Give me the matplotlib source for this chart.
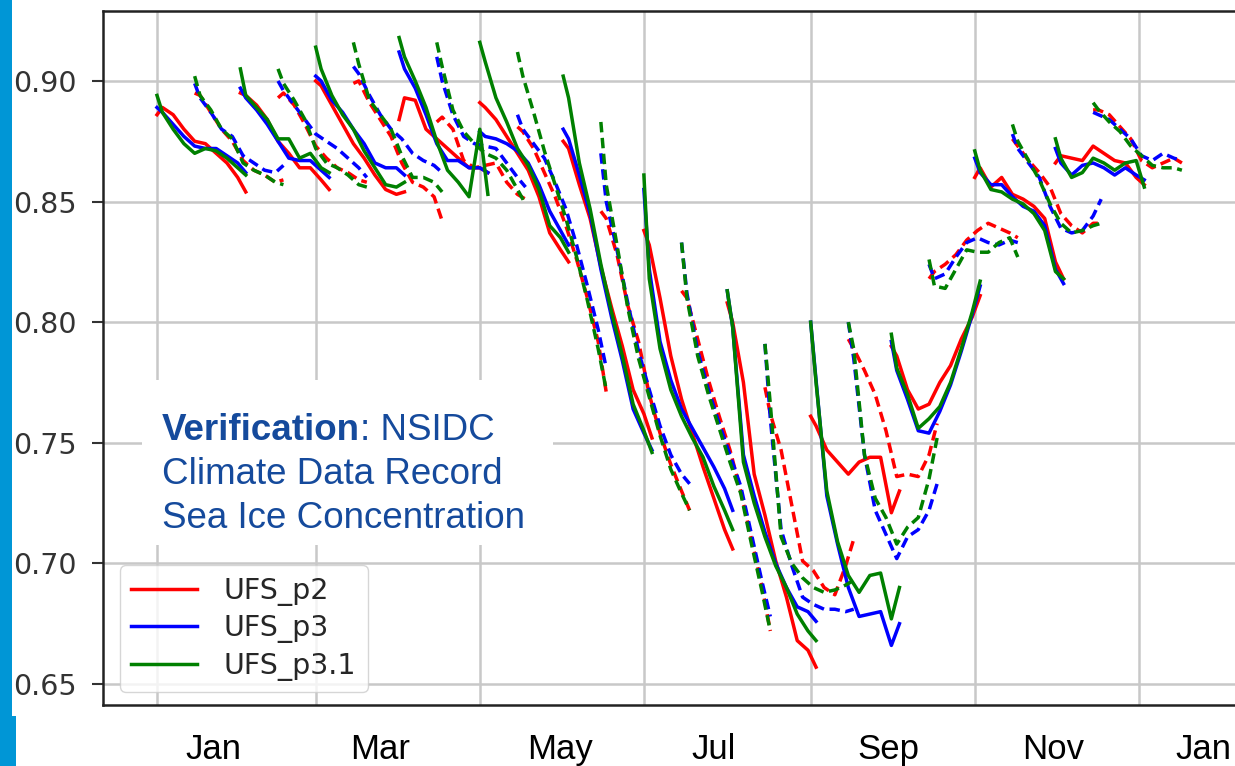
import numpy as np
import matplotlib.pyplot as plt
from matplotlib.patches import Rectangle
from matplotlib.lines import Line2D

# forecast start dates (day of year) and lead days of the sampled points
init_days = [0, 14, 31, 45, 59, 73, 90, 104, 120, 134, 151, 165,
             181, 195, 212, 226, 243, 257, 273, 287, 304, 318, 334, 348]
lead_days = [0, 2, 6, 10, 14, 18, 22, 26, 30, 33]

# sea ice extent fraction, one row per forecast
ufs_p2 = [
    [0.886, 0.889, 0.886, 0.880, 0.875, 0.874, 0.870, 0.866, 0.860, 0.854],
    [0.895, 0.894, 0.887, 0.880, 0.875, 0.867, 0.863, 0.861, 0.858, 0.859],
    [0.895, 0.894, 0.890, 0.884, 0.875, 0.870, 0.864, 0.864, 0.859, 0.855],
    [0.893, 0.895, 0.890, 0.882, 0.873, 0.868, 0.864, 0.862, 0.859, 0.858],
    [0.900, 0.898, 0.890, 0.882, 0.874, 0.868, 0.861, 0.855, 0.853, 0.854],
    [0.899, 0.900, 0.891, 0.884, 0.877, 0.866, 0.858, 0.856, 0.852, 0.842],
    [0.884, 0.893, 0.892, 0.880, 0.876, 0.872, 0.868, 0.864, 0.864, 0.862],
    [0.883, 0.885, 0.880, 0.867, 0.864, 0.865, 0.866, 0.858, 0.853, 0.851],
    [0.891, 0.889, 0.884, 0.877, 0.870, 0.863, 0.852, 0.837, 0.830, 0.825],
    [0.881, 0.879, 0.872, 0.862, 0.852, 0.840, 0.826, 0.810, 0.792, 0.771],
    [0.875, 0.872, 0.857, 0.843, 0.823, 0.806, 0.790, 0.772, 0.762, 0.752],
    [0.846, 0.843, 0.828, 0.807, 0.792, 0.770, 0.754, 0.741, 0.730, 0.722],
    [0.838, 0.832, 0.810, 0.786, 0.768, 0.754, 0.740, 0.727, 0.714, 0.706],
    [0.813, 0.810, 0.793, 0.776, 0.761, 0.747, 0.730, 0.710, 0.690, 0.672],
    [0.808, 0.800, 0.775, 0.737, 0.720, 0.701, 0.686, 0.668, 0.664, 0.657],
    [0.773, 0.762, 0.747, 0.724, 0.701, 0.697, 0.690, 0.687, 0.699, 0.710],
    [0.761, 0.757, 0.747, 0.742, 0.737, 0.742, 0.744, 0.744, 0.721, 0.730],
    [0.793, 0.789, 0.780, 0.770, 0.755, 0.736, 0.737, 0.736, 0.745, 0.758],
    [0.790, 0.786, 0.772, 0.764, 0.766, 0.775, 0.782, 0.793, 0.802, 0.811],
    [0.818, 0.821, 0.824, 0.828, 0.834, 0.838, 0.841, 0.839, 0.837, 0.835],
    [0.860, 0.864, 0.856, 0.860, 0.853, 0.851, 0.848, 0.843, 0.825, 0.818],
    [0.876, 0.873, 0.867, 0.862, 0.856, 0.845, 0.840, 0.837, 0.841, 0.841],
    [0.866, 0.869, 0.868, 0.867, 0.873, 0.870, 0.867, 0.866, 0.860, 0.857],
    [0.888, 0.888, 0.886, 0.881, 0.876, 0.867, 0.864, 0.866, 0.868, 0.866],
]
ufs_p3 = [
    [0.889, 0.887, 0.882, 0.877, 0.873, 0.872, 0.872, 0.869, 0.866, 0.862],
    [0.899, 0.893, 0.887, 0.880, 0.877, 0.869, 0.866, 0.863, 0.862, 0.865],
    [0.897, 0.893, 0.888, 0.882, 0.875, 0.868, 0.867, 0.867, 0.863, 0.860],
    [0.900, 0.896, 0.890, 0.884, 0.878, 0.875, 0.872, 0.868, 0.864, 0.860],
    [0.902, 0.900, 0.892, 0.887, 0.880, 0.874, 0.866, 0.864, 0.864, 0.861],
    [0.906, 0.903, 0.894, 0.886, 0.880, 0.876, 0.870, 0.867, 0.865, 0.862],
    [0.912, 0.905, 0.897, 0.886, 0.874, 0.867, 0.867, 0.864, 0.864, 0.862],
    [0.910, 0.900, 0.886, 0.877, 0.874, 0.873, 0.872, 0.866, 0.860, 0.856],
    [0.879, 0.877, 0.876, 0.874, 0.871, 0.866, 0.857, 0.846, 0.838, 0.832],
    [0.886, 0.880, 0.874, 0.868, 0.858, 0.847, 0.832, 0.815, 0.797, 0.781],
    [0.880, 0.876, 0.861, 0.845, 0.822, 0.802, 0.784, 0.764, 0.754, 0.747],
    [0.870, 0.850, 0.830, 0.808, 0.788, 0.772, 0.757, 0.745, 0.737, 0.733],
    [0.855, 0.822, 0.792, 0.776, 0.764, 0.756, 0.748, 0.740, 0.731, 0.722],
    [0.833, 0.812, 0.788, 0.772, 0.758, 0.745, 0.732, 0.712, 0.692, 0.678],
    [0.813, 0.798, 0.745, 0.728, 0.713, 0.700, 0.690, 0.682, 0.680, 0.676],
    [0.791, 0.760, 0.714, 0.699, 0.686, 0.683, 0.681, 0.681, 0.680, 0.681],
    [0.800, 0.776, 0.728, 0.708, 0.690, 0.678, 0.679, 0.680, 0.666, 0.675],
    [0.800, 0.785, 0.745, 0.722, 0.712, 0.702, 0.711, 0.714, 0.722, 0.733],
    [0.792, 0.780, 0.768, 0.755, 0.754, 0.763, 0.774, 0.788, 0.803, 0.815],
    [0.824, 0.818, 0.820, 0.827, 0.833, 0.835, 0.833, 0.832, 0.834, 0.833],
    [0.868, 0.862, 0.857, 0.857, 0.852, 0.848, 0.846, 0.840, 0.822, 0.816],
    [0.878, 0.872, 0.866, 0.860, 0.848, 0.839, 0.837, 0.838, 0.844, 0.851],
    [0.872, 0.866, 0.861, 0.865, 0.866, 0.864, 0.861, 0.864, 0.861, 0.859],
    [0.887, 0.886, 0.884, 0.880, 0.876, 0.869, 0.867, 0.870, 0.868, 0.867],
]
ufs_p31 = [
    [0.894, 0.887, 0.880, 0.874, 0.870, 0.872, 0.871, 0.868, 0.864, 0.861],
    [0.902, 0.894, 0.888, 0.880, 0.876, 0.866, 0.863, 0.861, 0.858, 0.857],
    [0.905, 0.894, 0.889, 0.884, 0.876, 0.876, 0.868, 0.870, 0.864, 0.862],
    [0.905, 0.899, 0.892, 0.884, 0.872, 0.866, 0.864, 0.861, 0.857, 0.856],
    [0.914, 0.905, 0.894, 0.886, 0.880, 0.871, 0.864, 0.857, 0.856, 0.858],
    [0.916, 0.907, 0.892, 0.886, 0.880, 0.869, 0.860, 0.860, 0.858, 0.854],
    [0.918, 0.910, 0.900, 0.889, 0.875, 0.863, 0.858, 0.852, 0.880, 0.853],
    [0.916, 0.906, 0.888, 0.879, 0.874, 0.870, 0.868, 0.863, 0.855, 0.849],
    [0.916, 0.908, 0.893, 0.883, 0.872, 0.865, 0.855, 0.840, 0.835, 0.829],
    [0.912, 0.902, 0.887, 0.871, 0.857, 0.843, 0.827, 0.809, 0.789, 0.772],
    [0.902, 0.893, 0.866, 0.847, 0.824, 0.804, 0.786, 0.766, 0.755, 0.746],
    [0.883, 0.857, 0.832, 0.806, 0.785, 0.769, 0.753, 0.739, 0.729, 0.722],
    [0.861, 0.818, 0.789, 0.772, 0.761, 0.752, 0.744, 0.732, 0.722, 0.714],
    [0.833, 0.810, 0.786, 0.770, 0.756, 0.742, 0.729, 0.708, 0.688, 0.672],
    [0.813, 0.798, 0.742, 0.725, 0.711, 0.699, 0.690, 0.679, 0.672, 0.668],
    [0.791, 0.766, 0.711, 0.700, 0.694, 0.690, 0.688, 0.689, 0.691, 0.693],
    [0.800, 0.775, 0.730, 0.709, 0.695, 0.688, 0.695, 0.696, 0.677, 0.690],
    [0.800, 0.789, 0.745, 0.727, 0.719, 0.708, 0.715, 0.719, 0.735, 0.752],
    [0.795, 0.781, 0.770, 0.756, 0.760, 0.765, 0.775, 0.789, 0.804, 0.817],
    [0.826, 0.815, 0.814, 0.822, 0.830, 0.829, 0.829, 0.833, 0.835, 0.827],
    [0.871, 0.863, 0.855, 0.854, 0.851, 0.849, 0.845, 0.838, 0.821, 0.818],
    [0.882, 0.875, 0.867, 0.859, 0.849, 0.841, 0.837, 0.838, 0.840, 0.841],
    [0.876, 0.868, 0.860, 0.862, 0.868, 0.866, 0.863, 0.866, 0.867, 0.856],
    [0.891, 0.888, 0.883, 0.879, 0.873, 0.869, 0.865, 0.864, 0.864, 0.863],
]

series_names = ['UFS_p2', 'UFS_p3', 'UFS_p3.1']
series_colors = ['r', 'b', 'g']

grid_days = [0, 59, 120, 181, 243, 304, 365]
month_days = [21, 83, 150, 207, 272, 333, 389]
month_labels = ['Jan', 'Mar', 'May', 'Jul', 'Sep', 'Nov', 'Jan']
yticks = [0.65, 0.70, 0.75, 0.80, 0.85, 0.90]

W, H = 1235, 766
fig = plt.figure(figsize=(W / 100, H / 100), dpi=100)
ax = fig.add_axes([103 / W, 1 - 705 / H, (1245 - 103) / W, (705 - 11) / H])

lead = np.array(lead_days)
for data, color in zip([ufs_p2, ufs_p3, ufs_p31], series_colors):
    for k, (t0, vals) in enumerate(zip(init_days, data)):
        line, = ax.plot(t0 + lead, vals, color=color, lw=2.5)
        if k % 2 == 1:
            line.set_dashes((3.0, 1.6))

ax.set_xlim((103 - 157) / 2.69, (1245 - 157) / 2.69)
ax.set_ylim(0.6413, 0.929)

# grid on the minor ticks, month names on the major ones
ax.set_xticks(grid_days, minor=True)
ax.set_xticks(month_days)
ax.set_xticklabels(month_labels, fontfamily='Liberation Sans', fontsize=25)
ax.tick_params(axis='x', which='both', length=0, pad=20, labelcolor='black')
ax.set_yticks(yticks)
ax.set_yticklabels([f'{v:.2f}' for v in yticks])
ax.tick_params(axis='y', length=8, width=1.5, color='#333333',
               labelsize=20.5, pad=11, labelcolor='#333333')
ax.grid(which='minor', axis='x', color='#c8c8c8', lw=1.8)
ax.grid(which='major', axis='y', color='#c8c8c8', lw=1.8)
ax.set_axisbelow(True)

for s in ['left', 'bottom', 'top']:
    ax.spines[s].set_color('#222222')
    ax.spines[s].set_linewidth(1.8)
ax.spines['right'].set_visible(False)

# white box behind the verification note
ax.add_patch(Rectangle((142 / W, 1 - 545 / H), (553 - 142) / W, (545 - 380) / H,
                       transform=fig.transFigure, facecolor='white',
                       edgecolor='none', zorder=1.5))
note_color = '#154a9c'
note_font = dict(fontfamily='Liberation Sans', fontsize=26.5, color=note_color)
t1 = fig.text(162 / W, 1 - 440 / H, 'Verification', fontweight='bold',
              va='baseline', **note_font)
ax.annotate(': NSIDC', xy=(1, 0), xycoords=t1, va='bottom', ha='left', **note_font)
fig.text(162 / W, 1 - 484 / H, 'Climate Data Record', va='baseline', **note_font)
fig.text(162 / W, 1 - 528 / H, 'Sea Ice Concentration', va='baseline', **note_font)

handles = [Line2D([], [], color=c, lw=2.5) for c in series_colors]
leg = ax.legend(handles, series_names, loc='lower left',
                bbox_to_anchor=(120 / W, 1 - 692 / H), bbox_transform=fig.transFigure,
                borderaxespad=0, fontsize=20.5, handlelength=2.3, handletextpad=0.95,
                labelspacing=0.3, framealpha=0.8, edgecolor='#cccccc')
for txt in leg.get_texts():
    txt.set_color('#262626')

# slide edge on the left
fig.patches.append(Rectangle((0, 0), 12 / W, 1, transform=fig.transFigure,
                             facecolor='#0096d6', edgecolor='none'))
fig.patches.append(Rectangle((0, 0), 16 / W, 50 / H, transform=fig.transFigure,
                             facecolor='#0096d6', edgecolor='none'))

fig.savefig('out.png', dpi=100)
